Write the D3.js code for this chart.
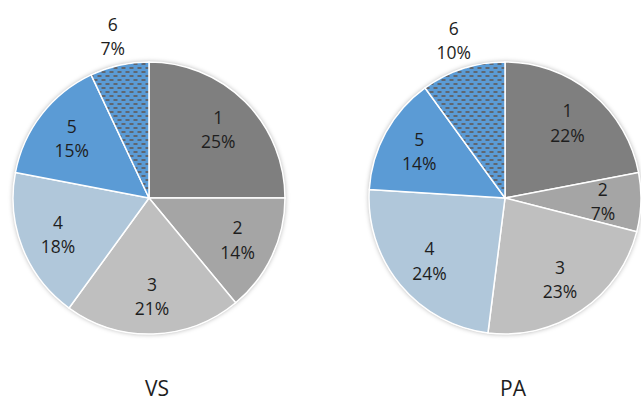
<!DOCTYPE html>
<html>
<head>
<meta charset="utf-8">
<script src="https://cdn.jsdelivr.net/npm/d3@7"></script>
<style>
  body { margin: 0; background: #fff; }
  svg { display: block; }
</style>
</head>
<body>
<div class="chart"></div>
<script>
var categories = ["1", "2", "3", "4", "5", "6"];
var vsValues = [25, 14, 21, 18, 15, 7];
var paValues = [22, 7, 23, 24, 14, 10];
var titles = ["VS", "PA"];

var sliceColors = ["#7f7f7f", "#a5a5a5", "#bfbfbf", "#b0c7da", "#5b9bd5", "url(#dash)"];

var width = 641, height = 401;
var radius = 136;

var svg = d3.select(".chart")
    .append("svg")
    .attr("width", width)
    .attr("height", height);

var defs = svg.append("defs");

// dashed fill for slice 6
var pat = defs.append("pattern")
    .attr("id", "dash")
    .attr("patternUnits", "userSpaceOnUse")
    .attr("width", 8)
    .attr("height", 8);
pat.append("rect").attr("width", 8).attr("height", 8).attr("fill", "#5b9bd5");
pat.append("rect").attr("x", 0.5).attr("y", 1).attr("width", 4).attr("height", 2).attr("fill", "#5f6670");
pat.append("rect").attr("x", 4.5).attr("y", 5).attr("width", 4).attr("height", 2).attr("fill", "#5f6670");
pat.append("rect").attr("x", -3.5).attr("y", 5).attr("width", 4).attr("height", 2).attr("fill", "#5f6670");

var shadow = defs.append("filter")
    .attr("id", "shadow")
    .attr("x", "-10%").attr("y", "-10%")
    .attr("width", "120%").attr("height", "120%");
shadow.append("feDropShadow")
    .attr("dx", 0).attr("dy", 0)
    .attr("stdDeviation", 2.5)
    .attr("flood-color", "#000")
    .attr("flood-opacity", 0.35);

var pie = d3.pie().sort(null).value(function(d) { return d.value; });
var arc = d3.arc().innerRadius(0).outerRadius(radius);
var labelArc = d3.arc().innerRadius(radius * 0.72).outerRadius(radius * 0.72);
var outerArc = d3.arc().innerRadius(radius * 1.22).outerRadius(radius * 1.22);

var x = d3.scalePoint().domain(titles).range([149, 505]);

function drawPie(title, values) {
    var data = categories.map(function(c, i) { return { name: c, value: values[i], i: i }; });
    var total = d3.sum(values);

    var g = svg.append("g")
        .attr("transform", "translate(" + x(title) + ",198)");

    g.append("circle")
        .attr("r", radius)
        .attr("fill", "#fff")
        .attr("filter", "url(#shadow)");

    var slices = g.selectAll(".slice")
        .data(pie(data))
        .enter()
        .append("g")
        .attr("class", "slice");

    slices.append("path")
        .attr("d", arc)
        .attr("fill", function(d) { return sliceColors[d.data.i]; })
        .attr("stroke", "#fff")
        .attr("stroke-width", 1.5);

    // last slice label sits outside the pie
    var labels = slices.append("text")
        .attr("transform", function(d) {
            var c = d.data.i == 5 ? outerArc.centroid(d) : labelArc.centroid(d);
            return "translate(" + c[0] + "," + c[1] + ")";
        })
        .style("text-anchor", "middle")
        .attr("font-family", "Open Sans")
        .attr("font-size", 17.5)
        .attr("fill", "#1e1e1e");

    labels.append("tspan")
        .attr("x", 0)
        .attr("dy", "-0.3em")
        .text(function(d) { return d.data.name; });
    labels.append("tspan")
        .attr("x", 0)
        .attr("dy", "1.4em")
        .text(function(d) { return Math.round(d.data.value / total * 100) + "%"; });

    svg.append("text")
        .attr("x", x(title) + 8)
        .attr("y", 396)
        .style("text-anchor", "middle")
        .attr("font-family", "Open Sans")
        .attr("font-size", 21)
        .attr("fill", "#1e1e1e")
        .text(title);
}

drawPie("VS", vsValues);
drawPie("PA", paValues);
</script>
</body>
</html>
